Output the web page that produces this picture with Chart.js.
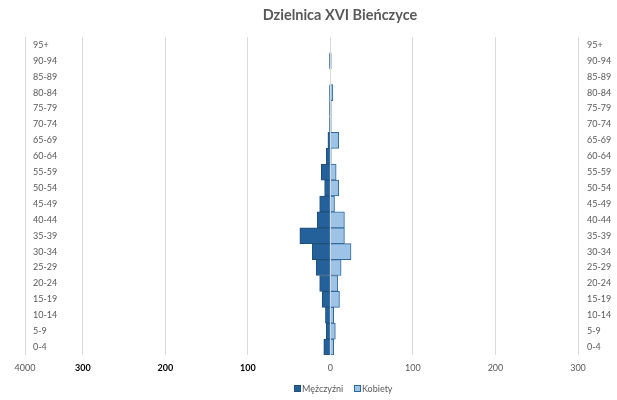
<!DOCTYPE html>
<html>
<head>
<meta charset="utf-8">
<script src="https://cdn.jsdelivr.net/npm/chart.js@4/dist/chart.umd.min.js"></script>
<style>
html,body{margin:0;padding:0;background:#fff;}
#wrap{width:617px;height:400px;position:relative;}
</style>
</head>
<body>
<div id="wrap"><canvas id="c" width="617" height="400"></canvas></div>
<script>
const chartTitle = 'Dzielnica XVI Bieńczyce';
const ageGroups = ['0-4','5-9','10-14','15-19','20-24','25-29','30-34','35-39','40-44','45-49','50-54','55-59','60-64','65-69','70-74','75-79','80-84','85-89','90-94','95+'];
const men =   [8, 5, 6, 10, 13, 17, 22, 37, 16, 13, 7, 11, 5, 3, 1, 1, 1, 0, 1, 0];
const women = [4, 6, 4, 11,  9, 13, 25, 17, 17,  5, 10, 7, 1, 10, 1, 1, 3, 0, 1, 0];
const seriesNames = ['Mężczyźni', 'Kobiety'];
const xTickValues = [-370, -300, -200, -100, 0, 100, 200, 300];
const xTickLabels = ['4000', '300', '200', '100', '0', '100', '200', '300'];

const FONT = 'Lato, "Open Sans", sans-serif';
const GRAY = '#595959';
const MEN_FILL = '#24619a', MEN_BORDER = '#1f4e79';
const WOMEN_FILL = '#9dc3e6', WOMEN_BORDER = '#2e6a9e';

const overlay = {
  id: 'overlay',
  afterDraw(chart) {
    const ctx = chart.ctx;
    ctx.save();
    ctx.fillStyle = GRAY;
    ctx.font = 'bold 14.5px ' + FONT;
    ctx.textAlign = 'center';
    ctx.textBaseline = 'middle';
    ctx.fillText(chartTitle, 340, 15);
    // legend
    ctx.font = '9px ' + FONT;
    ctx.textAlign = 'left';
    const items = [
      {x: 294, fill: MEN_FILL, border: MEN_BORDER, text: seriesNames[0]},
      {x: 354, fill: WOMEN_FILL, border: WOMEN_BORDER, text: seriesNames[1]}
    ];
    items.forEach(it => {
      ctx.fillStyle = it.fill;
      ctx.fillRect(it.x, 385, 7, 7);
      ctx.strokeStyle = it.border;
      ctx.lineWidth = 1;
      ctx.strokeRect(it.x + 0.5, 385.5, 6, 6);
      ctx.fillStyle = GRAY;
      ctx.fillText(it.text, it.x + 8, 389);
    });
    ctx.restore();
  }
};

new Chart(document.getElementById('c'), {
  type: 'bar',
  data: {
    labels: ageGroups,
    datasets: [
      {label: seriesNames[0], data: men.map(v => -v), backgroundColor: MEN_FILL, borderColor: MEN_BORDER, borderWidth: 1, barPercentage: 1, categoryPercentage: 1, yAxisID: 'y'},
      {label: seriesNames[1], data: women, backgroundColor: WOMEN_FILL, borderColor: WOMEN_BORDER, borderWidth: 1, barPercentage: 1, categoryPercentage: 1, yAxisID: 'y'}
    ]
  },
  options: {
    indexAxis: 'y',
    responsive: false,
    animation: false,
    layout: {padding: {top: 37, bottom: 20, left: 0, right: 0}},
    plugins: {legend: {display: false}, title: {display: false}, tooltip: {enabled: false}},
    scales: {
      x: {
        type: 'linear', stacked: true, min: -370, max: 300,
        afterBuildTicks(scale) { scale.ticks = xTickValues.map(v => ({value: v})); },
        afterFit(scale) { scale.height = 25; },
        grid: {color: '#d9d9d9', drawTicks: false, lineWidth: 1},
        border: {display: false},
        ticks: {
          padding: 8,
          autoSkip: false,
          maxRotation: 0,
          callback(value, index) { return xTickLabels[index]; },
          color(c) { return (c.index >= 1 && c.index <= 3) ? '#000000' : GRAY; },
          font(c) { return {family: FONT, size: 9, weight: (c.index >= 1 && c.index <= 3) ? 'bold' : 'normal'}; }
        }
      },
      y: {
        type: 'category', stacked: true, reverse: true, position: 'left',
        afterFit(scale) { scale.width = 25; },
        grid: {display: false, drawTicks: false},
        border: {display: false},
        ticks: {mirror: true, padding: 8, color: GRAY, font: {family: FONT, size: 9}, autoSkip: false}
      },
      y2: {
        type: 'category', reverse: true, position: 'right',
        afterFit(scale) { scale.width = 39; },
        grid: {display: false, drawTicks: false},
        border: {display: false},
        ticks: {padding: 9, color: GRAY, font: {family: FONT, size: 9}, autoSkip: false}
      }
    }
  },
  plugins: [overlay]
});
</script>
</body>
</html>
